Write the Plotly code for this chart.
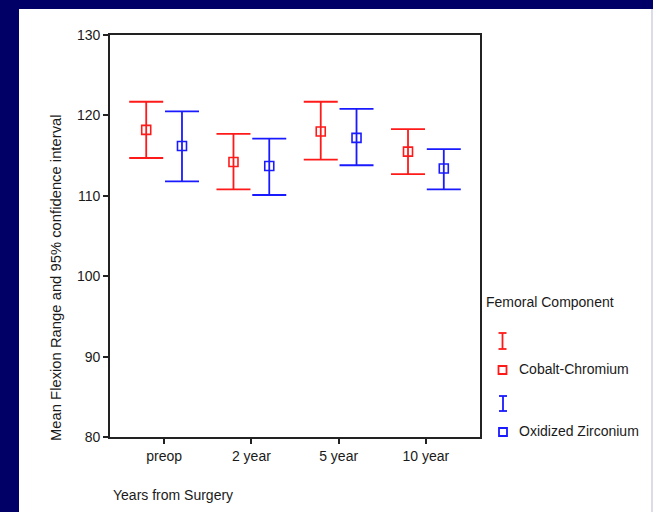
import plotly.graph_objects as go

# ---- data ----
categories = ["preop", "2 year", "5 year", "10 year"]
cc_mean = [118.2, 114.2, 118.0, 115.5]
cc_upper = [121.7, 117.7, 121.7, 118.3]
cc_lower = [114.7, 110.8, 114.5, 112.7]
oz_mean = [116.2, 113.7, 117.2, 113.4]
oz_upper = [120.5, 117.1, 120.8, 115.8]
oz_lower = [111.8, 110.1, 113.8, 110.8]
series_names = ["Cobalt-Chromium", "Oxidized Zirconium"]
legend_title = "Femoral Component"
y_title = "Mean Flexion Range and 95% confidence interval"
x_title = "Years from Surgery"
y_ticks = [80, 90, 100, 110, 120, 130]

W, H = 653, 512
L, R, T, B = 110, 480, 35, 437  # plot area in pixels
FONT = "Liberation Sans, Arial, sans-serif"
TXT = "#1a1a1a"
RED = "#ff1a1a"
BLUE = "#1a1aff"
FS = 14

def px(x):
    return (x - L) / (R - L)

def py(y):
    return (B - y) / (B - T)

xi = list(range(len(categories)))
off = 0.205

fig = go.Figure()
for name, mean, up, lo, col, sgn in [
    (series_names[0], cc_mean, cc_upper, cc_lower, RED, -1),
    (series_names[1], oz_mean, oz_upper, oz_lower, BLUE, 1),
]:
    fig.add_trace(go.Scatter(
        x=[v + sgn * off for v in xi], y=mean, mode="markers", name=name,
        marker=dict(symbol="square-open", size=9, color=col, line=dict(width=1.6, color=col)),
        error_y=dict(type="data", symmetric=False,
                     array=[u - m for u, m in zip(up, mean)],
                     arrayminus=[m - l for m, l in zip(mean, lo)],
                     color=col, thickness=1.8, width=17),
        showlegend=False, hoverinfo="skip",
    ))

shapes = [
    # white panel
    dict(type="rect", xref="paper", yref="paper", x0=px(19), x1=px(651), y0=py(513), y1=py(9),
         fillcolor="white", line=dict(width=0), layer="below"),
    dict(type="rect", xref="paper", yref="paper", x0=px(651), x1=px(654), y0=py(513), y1=py(9),
         fillcolor="#dcdce8", line=dict(width=0), layer="below"),
]

def ibar(xc, y0, y1, col):
    out = [dict(type="line", xref="paper", yref="paper", x0=px(xc), x1=px(xc), y0=py(y0), y1=py(y1),
                line=dict(color=col, width=1.8))]
    for yy in (y0, y1):
        out.append(dict(type="line", xref="paper", yref="paper", x0=px(xc - 4), x1=px(xc + 4),
                        y0=py(yy), y1=py(yy), line=dict(color=col, width=1.8)))
    return out

def sq(xc, yc, col):
    return dict(type="rect", xref="paper", yref="paper", x0=px(xc - 4), x1=px(xc + 4),
                y0=py(yc + 4), y1=py(yc - 4), line=dict(color=col, width=1.8))

shapes += ibar(502.5, 333, 349, RED)
shapes.append(sq(502.5, 370, RED))
shapes += ibar(503, 396, 411, BLUE)
shapes.append(sq(503, 432, BLUE))

def ann(text, x, y, xanchor="left", angle=0, size=FS):
    return dict(text=text, xref="paper", yref="paper", x=px(x), y=py(y), textangle=angle,
                showarrow=False, xanchor=xanchor, yanchor="middle",
                font=dict(size=size, color=TXT, family=FONT))

annotations = [
    ann(y_title, 56, 278, "center", -90, 14.8),
    ann(x_title, 111, 495),
    ann(legend_title, 484, 302),
    ann(series_names[0], 517, 369),
    ann(series_names[1], 517, 431),
]

fig.update_layout(
    width=W, height=H,
    margin=dict(l=L, r=W - R, t=T, b=H - B, pad=0),
    paper_bgcolor="#000066", plot_bgcolor="white",
    shapes=shapes, annotations=annotations,
    font=dict(family=FONT, size=FS, color=TXT),
    showlegend=False,
)
axis_style = dict(showgrid=False, zeroline=False, showline=True, linecolor="#222222", linewidth=1.6,
                  mirror=True, ticks="outside", ticklen=5, tickcolor="#222222", tickwidth=1.5,
                  tickfont=dict(size=FS, color=TXT, family=FONT))
fig.update_xaxes(range=[-0.62, 3.62], tickvals=xi, ticktext=categories, **axis_style)
fig.update_yaxes(range=[80, 130], tickvals=y_ticks, **axis_style)

fig.write_html("out.html", config={"displayModeBar": False},
               post_script="document.body.style.margin='0';document.body.style.overflow='hidden';")
